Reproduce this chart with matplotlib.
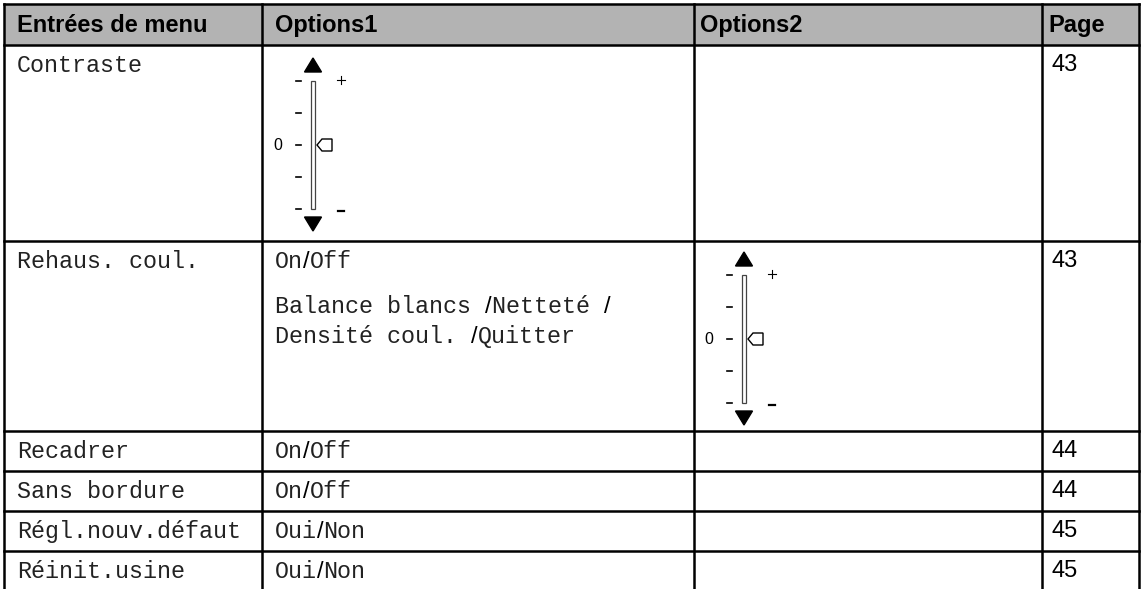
import matplotlib
matplotlib.use("Agg")
import matplotlib.pyplot as plt
from matplotlib.patches import Rectangle, Polygon

# Table content
headers = ["Entrées de menu", "Options1", "Options2", "Page"]
menu_entries = ["Contraste", "Rehaus. coul.", "Recadrer", "Sans bordure",
                "Régl.nouv.défaut", "Réinit.usine"]
# options1: list of lines, each line a list of (text, is_slash) parts
options1 = [
    None,  # slider
    [[("On", 0), ("/", 1), ("Off", 0)],
     [("Balance blancs ", 0), ("/", 1), ("Netteté ", 0), ("/", 1)],
     [("Densité coul. ", 0), ("/", 1), ("Quitter", 0)]],
    [[("On", 0), ("/", 1), ("Off", 0)]],
    [[("On", 0), ("/", 1), ("Off", 0)]],
    [[("Oui", 0), ("/", 1), ("Non", 0)]],
    [[("Oui", 0), ("/", 1), ("Non", 0)]],
]
slider_col = [1, 2]          # column holding the slider, per slider row
slider_rows = [0, 1]
page_numbers = ["43", "43", "44", "44", "45", "45"]
slider_levels = [2, 1, 0, -1, -2]   # tick marks, top to bottom

# Layout (pixels)
W, H = 1143, 589
col_x = [4, 262, 694, 1042, 1139]
row_y = [4, 45, 241, 431, 471, 511, 551, 589]
text_x = [17, 275, 700, 1051]
line_w = 1.8
mono = dict(family="Liberation Mono", fontsize=16.8, color="#222222")
sans = dict(family="Liberation Sans", fontsize=17, color="black")
mono_adv = 0.6 * 16.8 * 100 / 72
slash_adv = 0.278 * 17 * 100 / 72

fig = plt.figure(figsize=(W / 100, H / 100), dpi=100)
ax = fig.add_axes([0, 0, 1, 1])
ax.set_xlim(0, W)
ax.set_ylim(H, 0)
ax.axis("off")

# header band
ax.add_patch(Rectangle((col_x[0], row_y[0]), col_x[-1] - col_x[0],
                       row_y[1] - row_y[0], facecolor="#b3b3b3", edgecolor="none"))
for i, h in enumerate(headers):
    ax.text(text_x[i] if i < 3 else 1048, row_y[0] + 28, h, va="baseline", ha="left",
            fontweight="bold", **sans)

# grid lines
for y in row_y[:-1]:
    ax.plot([col_x[0], col_x[-1]], [y, y], color="black", lw=line_w,
            solid_capstyle="projecting")
for x in col_x:
    ax.plot([x, x], [row_y[0], row_y[-1]], color="black", lw=line_w)


def draw_parts(x, y, parts):
    for s, is_slash in parts:
        if is_slash:
            ax.text(x, y, s, va="baseline", ha="left", **sans)
            x += slash_adv
        else:
            ax.text(x, y, s, va="baseline", ha="left", **mono)
            x += len(s) * mono_adv


def draw_slider(cx, top):
    bottom = top + 128
    step = (bottom - top) / (len(slider_levels) - 1)
    ax.add_patch(Rectangle((cx - 2, top), 4, bottom - top, facecolor="white",
                           edgecolor="#444444", lw=0.9))
    ax.add_patch(Polygon([(cx - 8.5, top - 9), (cx + 8.5, top - 9), (cx, top - 23)],
                         closed=True, color="black"))
    ax.add_patch(Polygon([(cx - 8.5, bottom + 8), (cx + 8.5, bottom + 8), (cx, bottom + 22)],
                         closed=True, color="black"))
    for k, lvl in enumerate(slider_levels):
        ty = top + k * step
        ax.plot([cx - 17, cx - 12], [ty, ty], color="black", lw=1.2)
        if lvl == 0:
            ax.text(cx - 35, ty, "0", va="center", ha="center",
                    family="Liberation Sans", fontsize=11.5, color="black")
            ax.add_patch(Polygon([(cx + 4, ty), (cx + 9, ty - 6), (cx + 19, ty - 6),
                                  (cx + 19, ty + 6), (cx + 9, ty + 6)], closed=True,
                                 facecolor="white", edgecolor="black", lw=1.0))
    # + and - labels
    ax.plot([cx + 24, cx + 32], [top - 1, top - 1], color="black", lw=0.8)
    ax.plot([cx + 28, cx + 28], [top - 5, top + 3], color="black", lw=0.8)
    ax.plot([cx + 25, cx + 31], [bottom + 2, bottom + 2], color="black", lw=1.6)


for r, name in enumerate(menu_entries):
    top = row_y[r + 1]
    ax.text(text_x[0], top + 27, name, va="baseline", ha="left", **mono)
    ax.text(text_x[3], top + 26, page_numbers[r], va="baseline", ha="left", **sans)
    lines = options1[r]
    if lines is not None:
        ys = [top + 27, top + 72, top + 102]
        for ln, parts in enumerate(lines):
            draw_parts(text_x[1], ys[ln], parts)

for r, c in zip(slider_rows, slider_col):
    cx = (313, 744)[c - 1]
    draw_slider(cx, row_y[r + 1] + (36 if r == 0 else 34))

fig.savefig("out.png", dpi=100)
